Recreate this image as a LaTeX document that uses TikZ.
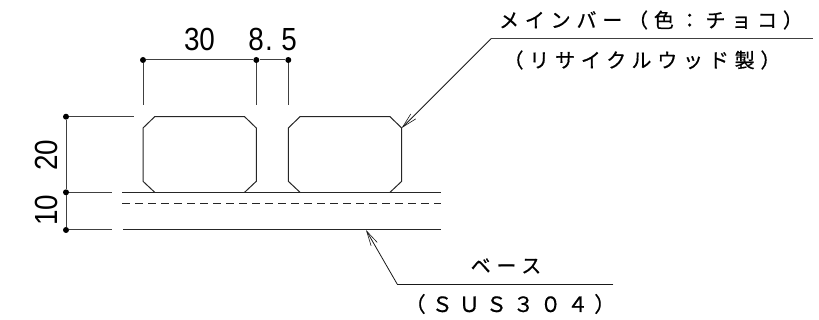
\documentclass[tikz,border=0pt]{standalone}
\usepackage{fontspec}
\usepackage{graphicx}
\setmainfont{Liberation Sans}
\newfontfamily\jpfont[LetterSpace=29,FakeBold=.6]{Noto Sans CJK JP}
\newcommand{\narrownum}[1]{\scalebox{.87}[1]{#1}}
\usetikzlibrary{arrows.meta}
\tikzset{
  outline/.style={draw=black!85,line width=1pt},
  dimline/.style={draw=black!75,line width=1pt},
  dimdot/.style={circle,fill=black,inner sep=0,minimum size=6pt},
  leader/.style={draw=black!90,line width=.8pt,-{Straight Barb[length=15pt,width=7pt,line width=.6pt]}},
  dimtext/.style={inner sep=0,anchor=base,font=\fontsize{32}{32}\selectfont},
  notetext/.style={inner sep=0,font=\fontsize{20}{20}\selectfont\jpfont}
}
\begin{document}
\begin{tikzpicture}[x=1pt,y=-1pt]
\useasboundingbox (0,0) rectangle (819,320);

% dimension dots
\node[dimdot] (d1) at (143,60) {};
\node[dimdot] (d2) at (256.3,60) {};
\node[dimdot] (d3) at (288.3,60) {};
\node[dimdot] (e1) at (66,116.7) {};
\node[dimdot] (e2) at (66,192.3) {};
\node[dimdot] (e3) at (66,230) {};

% free ends of the extension lines
\coordinate (d1end) at (143,105);
\coordinate (d2end) at (256.3,105);
\coordinate (d3end) at (288.3,105);
\coordinate (e1end) at (134,116.7);
\coordinate (e2end) at (111.7,192.3);
\coordinate (e3end) at (111.7,230);

\draw[dimline] (d1) -- (d2) -- (d3);
\draw[dimline] (e1) -- (e2) -- (e3);
\draw[dimline] (d1) -- (d1end);
\draw[dimline] (d2) -- (d2end);
\draw[dimline] (d3) -- (d3end);
\draw[dimline] (e1) -- (e1end);
\draw[dimline] (e2) -- (e2end);
\draw[dimline] (e3) -- (e3end);

% bars
\draw[outline] (154.7,192.3) -- (143,181.3) -- (143,128) -- (154.7,116.7) -- (244.6,116.7)
  -- (256.3,128) -- (256.3,181.3) -- (244.6,192.3);
\draw[outline] (300,192.3) -- (288.3,181.3) -- (288.3,128) -- (300,116.7) -- (390,116.7)
  -- (401.7,128) -- (401.7,181.3) -- (390,192.3);

% base
\draw[outline] (122,192.3) -- (440.7,192.3);
\draw[outline,line width=.9pt,dash pattern=on 8pt off 5pt] (122,203.3) -- (440.7,203.3);
\draw[outline] (123,230) -- (440.7,230);

% leaders
\coordinate (bartip) at (401.7,128);
\coordinate (barknee) at (491,38.7);
\coordinate (barend) at (812.7,38.7);
\coordinate (basetip) at (366,230);
\coordinate (baseknee) at (397.3,284.3);
\coordinate (baseend) at (613.3,284.3);
\draw[dimline] (barend) -- (barknee);
\draw[leader] (barknee) -- (bartip);
\draw[dimline,draw=black!90] (baseend) -- (baseknee);
\draw[leader] (baseknee) -- (basetip);

% dimension texts
\node[dimtext] (t30) at (199.5,50.7) {\narrownum{30}};
\node[dimtext] (t85a) at (256,50.7) {\narrownum{8}};
\node[dimtext] (t85b) at (269,50.7) {\narrownum{.}};
\node[dimtext] (t85c) at (289,50.7) {\narrownum{5}};
\node[dimtext,rotate=90] (t20) at (57,155.5) {\narrownum{20}};
\node[dimtext,rotate=90] (t10) at (57,210) {\narrownum{10}};

% notes
\node[notetext] (barone) at (651,20) {メインバー（色：チョコ）};
\node[notetext] (bartwo) at (642,60) {（リサイクルウッド製）};
\node[notetext] (baseone) at (506,266) {ベース};
\node[notetext,font=\fontsize{21}{21}\selectfont\jpfont] (basetwo) at (510,304) {（ＳＵＳ３０４）};
\end{tikzpicture}
\end{document}
